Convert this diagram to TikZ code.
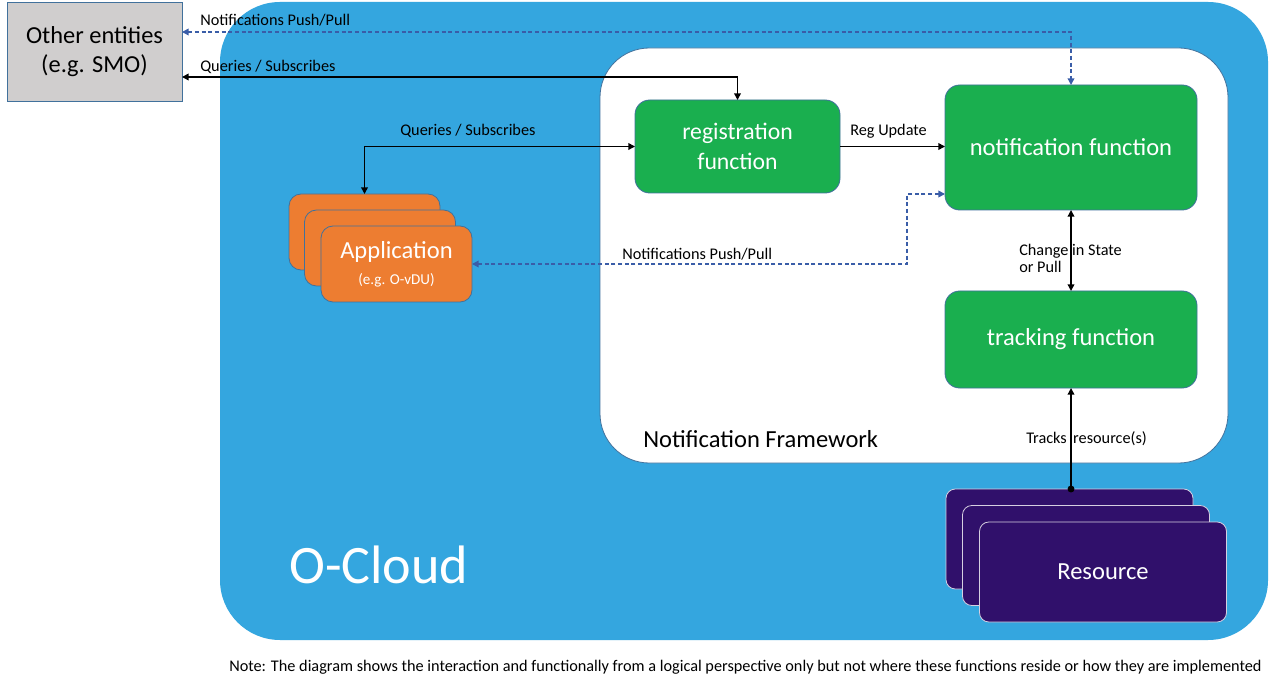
\documentclass[tikz,border=0pt]{standalone}
\usepackage{fontspec}
\setmainfont{Carlito}
\usetikzlibrary{arrows.meta,positioning}
\definecolor{cloudblue}{HTML}{34A6DF}
\definecolor{fgreen}{HTML}{1AAF4F}
\definecolor{forange}{HTML}{ED7D31}
\definecolor{fpurple}{HTML}{30106B}
\definecolor{fgrey}{HTML}{D0CECE}
\definecolor{edgeblue}{HTML}{41719C}
\definecolor{dashblue}{HTML}{3A5DA8}
\tikzset{
  fbox/.style={draw=edgeblue, line width=0.6pt, rounded corners=11pt, inner sep=0pt, outer sep=0pt, align=center, text=white, font=\fontsize{18.4}{22.5}\selectfont},
  funcbox/.style={fbox, fill=fgreen},
  appbox/.style={fbox, fill=forange, minimum width=113.25pt, minimum height=57pt, rounded corners=9pt},
  resbox/.style={fbox, draw=white!80!fpurple, fill=fpurple, minimum width=185.25pt, minimum height=75pt, rounded corners=7pt},
  lbl/.style={inner sep=0pt, anchor=west, font=\fontsize{12.2}{13}\selectfont, align=left},
  solidarrow/.style={line width=1.1pt, {Triangle[length=5pt,width=5pt]}-{Triangle[length=5pt,width=5pt]}},
  dasharrow/.style={line width=1.1pt, draw=dashblue, dash pattern=on 3pt off 2pt, {Triangle[length=5pt,width=5pt]}-{Triangle[length=5pt,width=5pt]}},
}
\begin{document}
\begin{tikzpicture}[x=0.75pt,y=-0.75pt]
\path[fill=white,use as bounding box] (0,0) rectangle (1276,680);
% O-Cloud
\path[fill=cloudblue, rounded corners=45pt] (220,2) rectangle (1268,640);
% Notification framework
\path[fill=white, draw=edgeblue, line width=0.6pt, rounded corners=37pt] (600,48) rectangle (1228,463);
% Other entities
\node[fbox, fill=fgrey, text=black, rounded corners=0pt, minimum width=131.25pt, minimum height=74.25pt, font=\fontsize{18.3}{22}\selectfont] (other) at (94.5,51.5) {Other entities\\(e.g. SMO)};
% functions
\node[funcbox, minimum width=153.75pt, minimum height=69.75pt, font=\fontsize{17.8}{22.5}\selectfont] (reg) at (737.5,146.5) {registration\\function};
\node[funcbox, minimum width=189pt, minimum height=93.75pt] (notif) at (1071,147.5) {notification function};
\node[funcbox, minimum width=189pt, minimum height=72.75pt] (track) at (1071,339.5) {tracking function};
% applications
\node[appbox] (app1) at (364.5,232) {};
\node[appbox] (app2) at (380,248) {};
\node[appbox] (app3) at (396.5,264) {Application\\[-3pt]{\fontsize{11.3}{13}\selectfont (e.g. O-vDU)}};
% resources
\node[resbox] (res1) at (1069.5,539) {};
\node[resbox] (res2) at (1086,555.5) {};
\node[resbox] (res3) at (1103,572) {Resource};
% texts
\node[inner sep=0pt, anchor=west, text=white, font=\fontsize{40.6}{48}\selectfont] (ocloud) at (289,565) {O-Cloud};
\node[inner sep=0pt, anchor=west, font=\fontsize{18.4}{22}\selectfont] (nfw) at (643,439) {Notification Framework};
\node[inner sep=0pt, anchor=west, font=\fontsize{12.2}{14}\selectfont] (note) at (229,667) {Note: The diagram shows the interaction and functionally from a logical perspective only but not where these functions reside or how they are implemented};
% connectors
\coordinate (n1) at (1071,32);
\draw[dasharrow] (other.east |- n1) -- (n1) -- (notif.north);
\node[lbl] (l1) at (200,20) {Notifications Push/Pull};
\coordinate (q1) at (737.5,77);
\draw[solidarrow] (other.east |- q1) -- (q1) -- (reg.north);
\node[lbl] (l2) at (200,67) {Queries / Subscribes};
\draw[solidarrow] (app1.north) |- (reg.west);
\node[lbl] (l3) at (400,131) {Queries / Subscribes};
\draw[line width=1.1pt, -{Triangle[length=5pt,width=5pt]}] (reg.east) -- (reg.east -| notif.west);
\node[lbl] (l4) at (850,131) {Reg Update};
\coordinate (d1) at (907,194);
\draw[dasharrow] (notif.west |- d1) -- (d1) |- (app3.east);
\node[lbl] (l5) at (622,254) {Notifications Push/Pull};
\draw[solidarrow] (notif.south) -- (track.north);
\node[lbl, font=\fontsize{12.2}{12.8}\selectfont] (l6) at (1019,258.5) {Change in State\\or Pull};
\coordinate (r1) at (track.south |- res1.north);
\draw[line width=1.1pt, {Triangle[length=5pt,width=5pt]}-] (track.south) -- (r1);
\fill (r1) circle (2.6pt);
\node[lbl] (l7) at (1026,439) {Tracks\, resource(s)};
\end{tikzpicture}
\end{document}
